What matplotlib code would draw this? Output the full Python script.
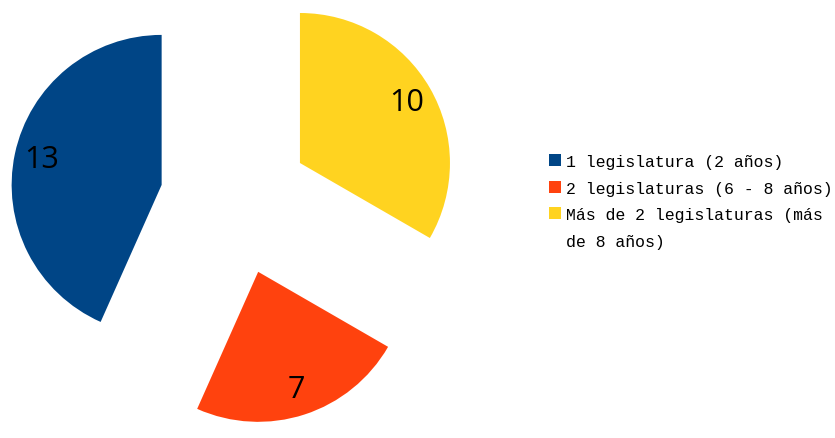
import matplotlib
matplotlib.use('Agg')
import matplotlib.pyplot as plt

# data
labels = ['1 legislatura (2 años)', '2 legislaturas (6 - 8 años)',
          'Más de 2 legislaturas (más\nde 8 años)']
values = [13, 7, 10]
colors = ['#004586', '#ff420e', '#ffd320']

# pie order (clockwise from 12 o'clock): yellow, orange, blue
order = [2, 1, 0]
total = sum(values)

W, H, DPI = 835, 439, 100
fig = plt.figure(figsize=(W / DPI, H / DPI), dpi=DPI)
ax = fig.add_axes([0, 0, 1, 1])

R = 150.0              # radius in px
cx, cy = 235.0, 201.5  # pie centre (px from top-left)

wedges, texts, autotexts = ax.pie(
    [values[i] for i in order],
    colors=[colors[i] for i in order],
    explode=[0.5] * 3, startangle=90, counterclock=False,
    radius=1, pctdistance=0.82,
    autopct=lambda p: f'{round(p * total / 100)}',
    textprops=dict(fontsize=22, color='black', family='Open Sans'),
    wedgeprops=dict(linewidth=0),
)
ax.set_aspect('auto')
ax.set_xlim(-cx / R, (W - cx) / R)
ax.set_ylim(-(H - cy) / R, cy / R)
ax.axis('off')

# legend in original order; long label wrapped by hand so the swatch
# stays on the first line
first_lines = [s.split('\n')[0] for s in labels]
handles = [wedges[order.index(i)] for i in range(3)]
leg = fig.legend(handles, first_lines, loc='upper left',
                 bbox_to_anchor=(549 / W, 1 - 155 / H),
                 bbox_transform=fig.transFigure,
                 frameon=False, borderpad=0, borderaxespad=0,
                 handlelength=0.72, handleheight=0.72, handletextpad=0.3,
                 labelspacing=0.7,
                 prop=dict(family='Liberation Mono', size=11.9))

fig.canvas.draw()
for txt, full in zip(leg.get_texts(), labels):
    rest = full.split('\n')[1:]
    if not rest:
        continue
    bb = txt.get_window_extent()
    for k, line in enumerate(rest, 1):
        fig.text(bb.x0 / W, (bb.y0 - 26.5 * k) / H, line,
                 family='Liberation Mono', size=11.9, va='bottom', ha='left')

fig.savefig('out.png', dpi=DPI)
